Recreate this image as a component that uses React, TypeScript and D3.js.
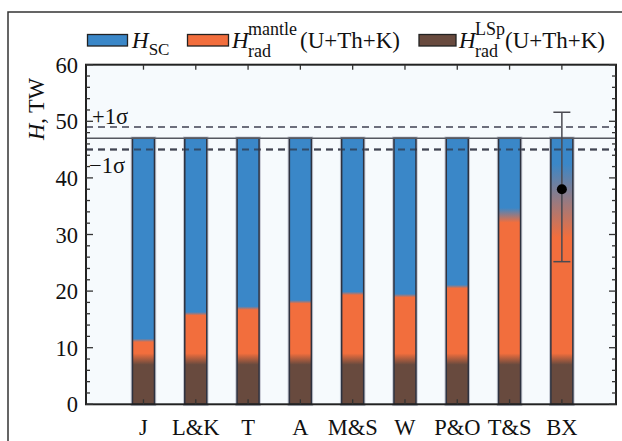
import React from 'react'
import * as d3 from 'd3'

// Data
const categories = ['J', 'L&K', 'T', 'A', 'M&S', 'W', 'P&O', 'T&S', 'BX']
const totalHeat = 47
const sigma = 2
const lspTop = [8, 8, 8, 8, 8, 8, 8, 8, 8]
const mantleTop = [11.3, 16, 17, 18.1, 19.6, 19.2, 20.8, 33.4, 36]
const mantleSpread = [0.3, 0.3, 0.3, 0.3, 0.3, 0.3, 0.3, 1.3, 6.5]
const bxEstimate = { category: 'BX', value: 38, low: 25.2, high: 51.6 }
const yTicks = [0, 10, 20, 30, 40, 50, 60]
const yMinorTicks = d3.range(0, 61, 2)

const blue = '#3a87c8'
const orange = '#f26e3d'
const brown = '#684a3e'
const serif = { fontFamily: 'Liberation Serif' }

export default function App() {
    // SVG size and plot box
    const width = 622
    const height = 441
    const left = 86
    const right = 616
    const top = 64.7
    const bottom = 404.3

    // Scales
    const x = d3.scalePoint<string>()
        .domain(categories)
        .range([left, right])
        .padding(1.067)
        .align(0.515)
    const y = d3.scaleLinear().domain([0, 60]).range([bottom, top])

    const barW = 22
    const barTop = y(totalHeat)
    const span = bottom - barTop
    const off = (v: number) => Math.max(0, Math.min(1, (bottom - y(v)) / span))

    return (
        <svg width={width} height={height} style={{ position: 'absolute', left: 0, top: 0 }}>
            <defs>
                {categories.map((c, i) => (
                    <linearGradient key={c} id={'g' + i} gradientUnits="userSpaceOnUse"
                        x1={0} x2={0} y1={bottom} y2={barTop}>
                        <stop offset={0} stopColor={brown} />
                        <stop offset={off(lspTop[i] - 1)} stopColor={brown} />
                        <stop offset={off(lspTop[i] + 1)} stopColor={orange} />
                        <stop offset={off(mantleTop[i] - mantleSpread[i])} stopColor={orange} />
                        <stop offset={off(mantleTop[i] + mantleSpread[i])} stopColor={blue} />
                        <stop offset={1} stopColor={blue} />
                    </linearGradient>
                ))}
            </defs>

            <rect x={0} y={0} width={width} height={height} fill="#fff" />
            {/* figure border */}
            <rect x={8} y={12} width={width} height={height} fill="none" stroke="#333" strokeWidth={1.5} />

            {/* plot background */}
            <rect x={left} y={top} width={right - left} height={bottom - top} fill="#f6fafd" />

            {/* sigma lines */}
            <line x1={left} x2={right} y1={y(totalHeat + sigma)} y2={y(totalHeat + sigma)}
                stroke="#6c6e7c" strokeWidth={2} strokeDasharray="7,5" />
            <line x1={left} x2={right} y1={y(totalHeat - sigma)} y2={y(totalHeat - sigma)}
                stroke="#6c6e7c" strokeWidth={2} strokeDasharray="7,5" />

            {/* bars */}
            {categories.map((c, i) => (
                <g key={c}>
                    <rect x={x(c)! - barW / 2} y={barTop} width={barW} height={span}
                        fill="none" stroke="#c3c6d0" strokeWidth={3.5} />
                    <rect x={x(c)! - barW / 2} y={barTop} width={barW} height={span}
                        fill={`url(#g${i})`} stroke="#2e3240" strokeWidth={1.5} />
                </g>
            ))}

            {/* dashed -1 sigma over bars */}
            <line x1={left} x2={right} y1={y(totalHeat - sigma)} y2={y(totalHeat - sigma)}
                stroke="#2e3240" strokeOpacity={0.7} strokeWidth={2} strokeDasharray="7,5" />

            {/* total heat line */}
            <line x1={left} x2={right} y1={barTop} y2={barTop} stroke="#55575f" strokeWidth={1.5} />

            {/* BX estimate with error bar */}
            <g stroke="#4a4a52" strokeWidth={1.5}>
                <line x1={x(bxEstimate.category)} x2={x(bxEstimate.category)}
                    y1={y(bxEstimate.low)} y2={y(bxEstimate.high)} />
                <line x1={x(bxEstimate.category)! - 8.5} x2={x(bxEstimate.category)! + 8.5}
                    y1={y(bxEstimate.low)} y2={y(bxEstimate.low)} />
                <line x1={x(bxEstimate.category)! - 8.5} x2={x(bxEstimate.category)! + 8.5}
                    y1={y(bxEstimate.high)} y2={y(bxEstimate.high)} />
            </g>
            <circle cx={x(bxEstimate.category)} cy={y(bxEstimate.value)} r={5} fill="#000" />

            {/* frame and ticks */}
            <rect x={left} y={top} width={right - left} height={bottom - top}
                fill="none" stroke="#222" strokeWidth={2} />
            {yMinorTicks.map(t => {
                const len = t % 10 === 0 ? 7 : 4
                return (
                    <g key={t} stroke="#333" strokeWidth={1.3}>
                        <line x1={left} x2={left + len} y1={y(t)} y2={y(t)} />
                        <line x1={right} x2={right - len} y1={y(t)} y2={y(t)} />
                    </g>
                )
            })}
            {categories.map(c => (
                <g key={c} stroke="#333" strokeWidth={1.3}>
                    <line x1={x(c)} x2={x(c)} y1={bottom} y2={bottom - 5} />
                    <line x1={x(c)} x2={x(c)} y1={top} y2={top + 5} />
                </g>
            ))}

            {/* tick labels */}
            {yTicks.map(t => (
                <text key={t} x={78} y={y(t) + 8} textAnchor="end" fontSize={22.5} fill="#111" style={serif}>{t}</text>
            ))}
            {categories.map(c => (
                <text key={c} x={x(c)} y={435} textAnchor="middle" fontSize={22.5} fill="#111" style={serif}>{c}</text>
            ))}

            {/* sigma labels */}
            <text x={92} y={124} fontSize={22.5} fill="#111" style={serif}>+1σ</text>
            <text x={89} y={173} fontSize={22.5} fill="#111" style={serif}>−1σ</text>

            {/* y axis title */}
            <text transform="translate(44,140) rotate(-90)" fontSize={22.5} fill="#111" style={serif}>
                <tspan fontStyle="italic">H</tspan>, TW
            </text>

            {/* legend */}
            <rect x={87.5} y={34.5} width={40} height={11.5} fill={blue} stroke="#222" strokeWidth={1.3} />
            <text x={132} y={48} fontSize={23} fill="#111" style={serif}>
                <tspan fontStyle="italic">H</tspan>
                <tspan fontSize={17} dy={7}>SC</tspan>
            </text>

            <rect x={187.5} y={34.5} width={41} height={11.5} fill={orange} stroke="#222" strokeWidth={1.3} />
            <text x={232} y={48} fontSize={23} fill="#111" fontStyle="italic" style={serif}>H</text>
            <text x={248} y={35} fontSize={18} fill="#111" style={serif}>mantle</text>
            <text x={248} y={57} fontSize={18} fill="#111" style={serif}>rad</text>
            <text x={300} y={48} fontSize={23} fill="#111" style={serif}>(U+Th+K)</text>

            <rect x={419} y={34.5} width={37} height={11.5} fill={brown} stroke="#222" strokeWidth={1.3} />
            <text x={459} y={48} fontSize={23} fill="#111" fontStyle="italic" style={serif}>H</text>
            <text x={475} y={35} fontSize={18} fill="#111" style={serif}>LSp</text>
            <text x={475} y={57} fontSize={18} fill="#111" style={serif}>rad</text>
            <text x={505} y={48} fontSize={23} fill="#111" style={serif}>(U+Th+K)</text>
        </svg>
    )
}
